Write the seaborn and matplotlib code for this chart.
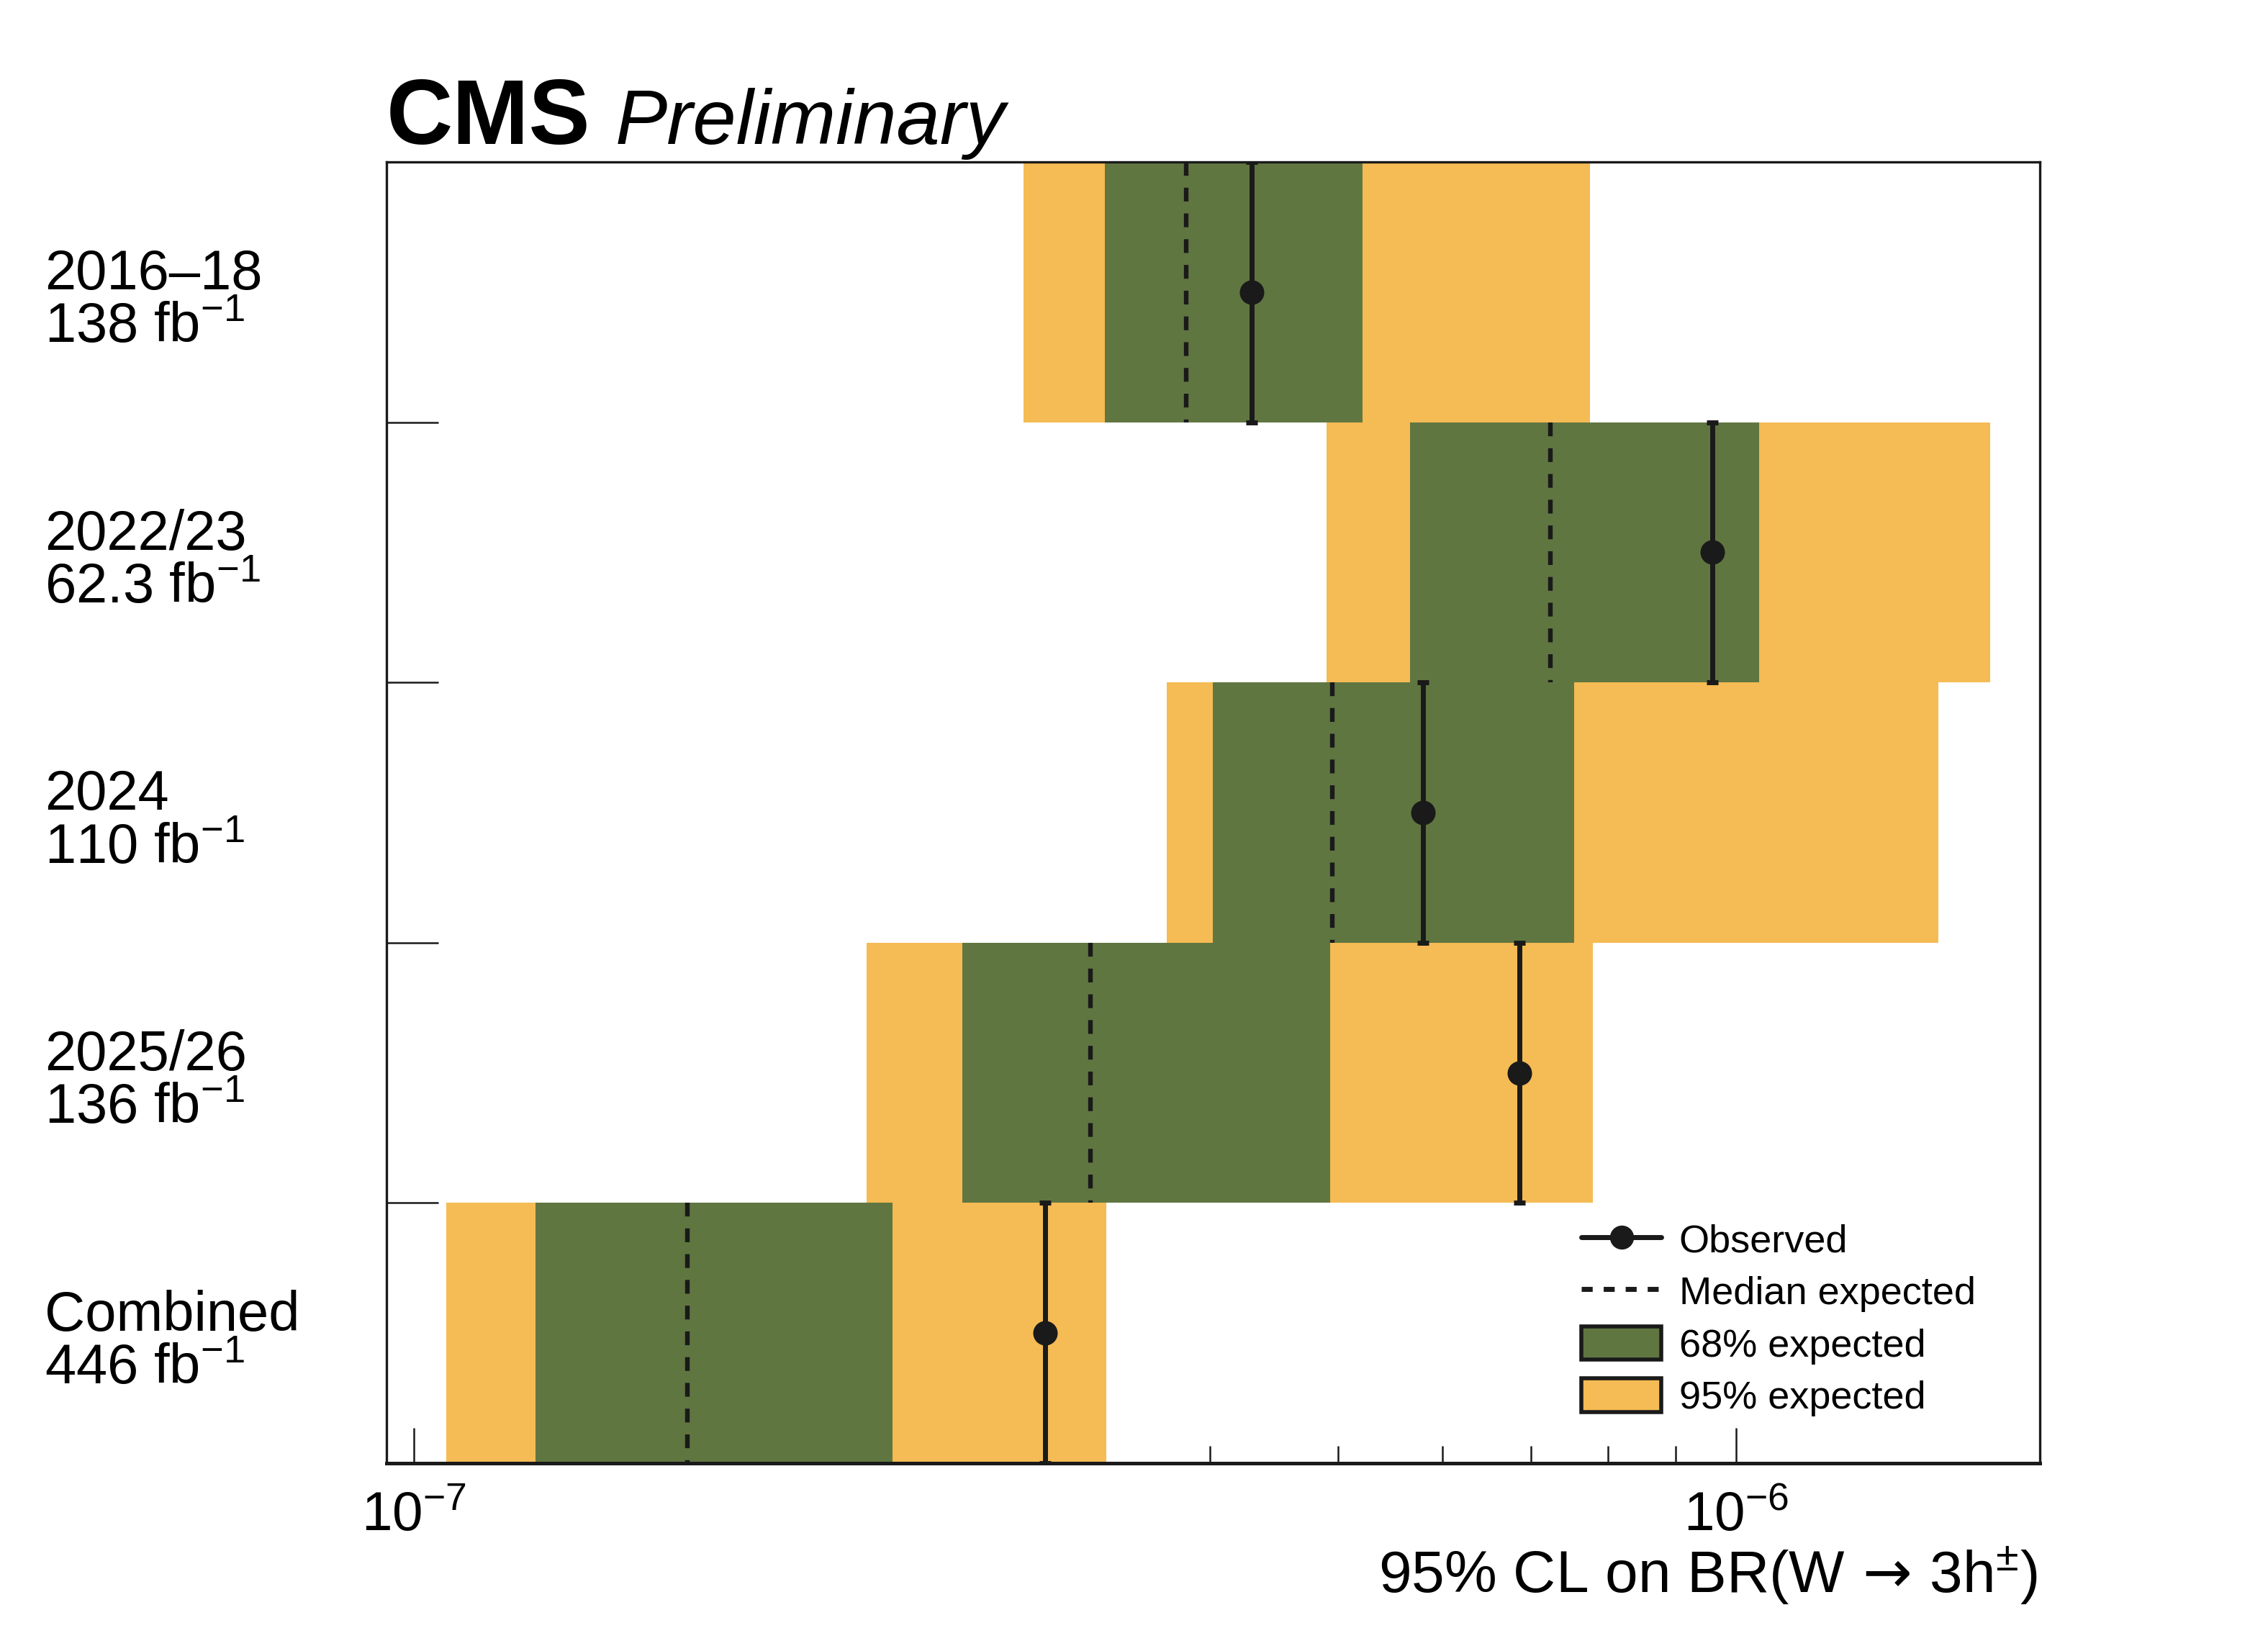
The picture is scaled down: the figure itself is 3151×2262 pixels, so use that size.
import numpy as np
import matplotlib
matplotlib.use('Agg')
import matplotlib.pyplot as plt
import pandas as pd
import seaborn as sns
from matplotlib.lines import Line2D
from matplotlib.patches import Patch
from matplotlib.ticker import LogLocator, NullFormatter, NullLocator
from matplotlib.transforms import blended_transform_factory

# valores (limites a 95% CL no BR)
periods = ['2016–18', '2022/23', '2024', '2025/26', 'Combined']
lumi = ['138', '62.3', '110', '136', '446']
observed = [4.30e-7, 9.60e-7, 5.80e-7, 6.86e-7, 3.00e-7]
median_exp = [3.84e-7, 7.24e-7, 4.95e-7, 3.25e-7, 1.61e-7]
band68_lo = [3.33e-7, 5.67e-7, 4.02e-7, 2.60e-7, 1.235e-7]
band68_hi = [5.22e-7, 1.041e-6, 7.54e-7, 4.93e-7, 2.30e-7]
band95_lo = [2.89e-7, 4.90e-7, 3.71e-7, 2.20e-7, 1.057e-7]
band95_hi = [7.76e-7, 1.557e-6, 1.423e-6, 7.79e-7, 3.34e-7]

GREEN = '#607641'
YELLOW = '#F5BB54'

df = pd.DataFrame({
    'period': periods,
    'observed': observed,
    'median': median_exp,
    'lo68': band68_lo, 'hi68': band68_hi,
    'lo95': band95_lo, 'hi95': band95_hi,
})
df['row'] = np.arange(len(df))

sns.set_theme(style='ticks')
plt.rcParams['font.family'] = ['Liberation Sans', 'DejaVu Sans']
plt.rcParams['mathtext.fontset'] = 'custom'
plt.rcParams['mathtext.rm'] = 'Liberation Sans'
plt.rcParams['mathtext.it'] = 'Liberation Sans:italic'
plt.rcParams['mathtext.sf'] = 'DejaVu Sans'
plt.rcParams['mathtext.default'] = 'regular'
plt.rcParams['text.color'] = 'black'
plt.rcParams['axes.labelcolor'] = 'black'
plt.rcParams['xtick.color'] = 'black'
plt.rcParams['ytick.color'] = 'black'

fig = plt.figure(figsize=(3151 / 200, 2262 / 200), dpi=200)
ax = fig.add_axes([0.1704, 0.1012, 0.8994 - 0.1704, 0.9005 - 0.1012])
ax.set_xscale('log')

# bandas esperadas
ax.barh(df['row'], df['hi95'] - df['lo95'], left=df['lo95'], height=1.0,
        color=YELLOW, linewidth=0, zorder=1)
ax.barh(df['row'], df['hi68'] - df['lo68'], left=df['lo68'], height=1.0,
        color=GREEN, linewidth=0, zorder=2)

# mediana esperada
ax.vlines(df['median'], df['row'] - 0.5, df['row'] + 0.5, colors='k',
          linestyles=(0, (3, 2.6)), linewidth=2.3, zorder=3)

# observado
ax.errorbar(df['observed'], df['row'], yerr=0.5, fmt='none', ecolor='k',
            elinewidth=2.5, capsize=3, capthick=2.5, zorder=4)
sns.scatterplot(data=df, x='observed', y='row', color='k', s=150,
                edgecolor='k', linewidth=0, zorder=5, ax=ax, legend=False)

ax.set_xlim(9.53e-8, 1.698e-6)
ax.set_ylim(4.5, -0.5)
ax.set_xlabel('')
ax.set_ylabel('')

ax.xaxis.set_major_locator(LogLocator(base=10))
ax.xaxis.set_minor_locator(LogLocator(base=10, subs=np.arange(2, 10)))
ax.xaxis.set_minor_formatter(NullFormatter())
ax.tick_params(axis='x', which='major', direction='in', length=17.5, width=0.9,
               top=False, labelsize=27.5, pad=14, color='k')
ax.tick_params(axis='x', which='minor', direction='in', length=8.5, width=0.9,
               top=False, color='k')

ax.set_yticks(df['row'][:-1] + 0.5)
ax.set_yticklabels([])
ax.yaxis.set_minor_locator(NullLocator())
ax.tick_params(axis='y', which='major', direction='in', length=26, width=0.9,
               right=False, color='k')

for side in ['left', 'right', 'top']:
    ax.spines[side].set_linewidth(1.2)
    ax.spines[side].set_color('k')
ax.spines['bottom'].set_linewidth(1.8)
ax.spines['bottom'].set_color('k')

# rotulos das linhas
trans = blended_transform_factory(fig.transFigure, ax.transData)
for i in range(len(periods)):
    ax.text(0.0197, i - 0.01, periods[i], transform=trans, ha='left',
            va='baseline', fontsize=28)
    ax.text(0.0197, i + 0.195, lumi[i] + r' fb$^{-1}$', transform=trans,
            ha='left', va='baseline', fontsize=28)

fig.text(0.1703, 0.9116, 'CMS', fontsize=46, fontweight='bold', va='baseline')
fig.text(0.2712, 0.9116, 'Preliminary', fontsize=39, style='italic',
         va='baseline')

fig.text(0.8985, 0.0217, r'95% CL on BR(W$\,\mathsf{\rightarrow}\,$3h$^{±}$)',
         ha='right', va='baseline', fontsize=29.5)

handles = [
    Line2D([], [], color='k', lw=2.5, marker='o', ms=11),
    Line2D([], [], color='k', lw=2.5, linestyle=(0, (2.2, 2.2))),
    Patch(facecolor=GREEN, edgecolor='k', linewidth=2),
    Patch(facecolor=YELLOW, edgecolor='k', linewidth=2),
]
labels = ['Observed', 'Median expected', '68% expected', '95% expected']
fig.legend(handles, labels, loc='upper left', bbox_to_anchor=(0.6973, 0.2495),
           frameon=False, fontsize=19.5, handlelength=2.05, handleheight=0.95,
           handletextpad=0.45, labelspacing=0.36, borderpad=0, borderaxespad=0)

fig.savefig('out.png', dpi=200)
